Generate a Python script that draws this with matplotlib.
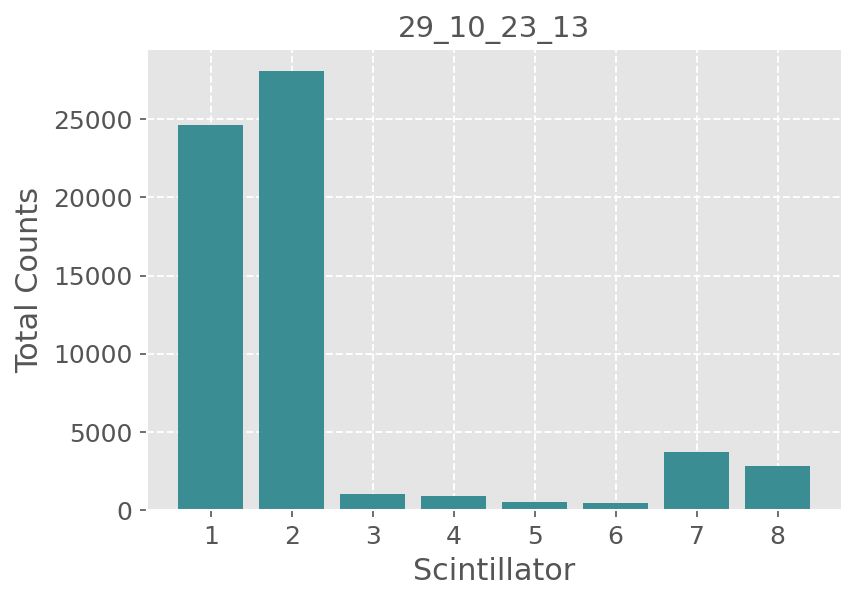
import matplotlib
matplotlib.use("Agg")
import matplotlib.pyplot as plt

scintillators = [1, 2, 3, 4, 5, 6, 7, 8]
counts = [24620, 28060, 1020, 890, 510, 450, 3700, 2800]
title = "29_10_23_13"

plt.style.use("ggplot")
fig = plt.figure(figsize=(5.72, 4.007), dpi=150)
ax = fig.add_axes([0.171, 0.151, 0.81, 0.767])
ax.bar(scintillators, counts, color="#3a8d92")
ax.set_xticks(scintillators)
ax.grid(True, linestyle="--", color="white", linewidth=0.9)
ax.set_axisbelow(True)
ax.tick_params(labelsize=12)
ax.set_xlabel("Scintillator", fontsize=14.5)
ax.set_ylabel("Total Counts", fontsize=14.5)
ax.set_title(title, fontsize=14, color="#555555")
fig.savefig("out.png", dpi=150)
